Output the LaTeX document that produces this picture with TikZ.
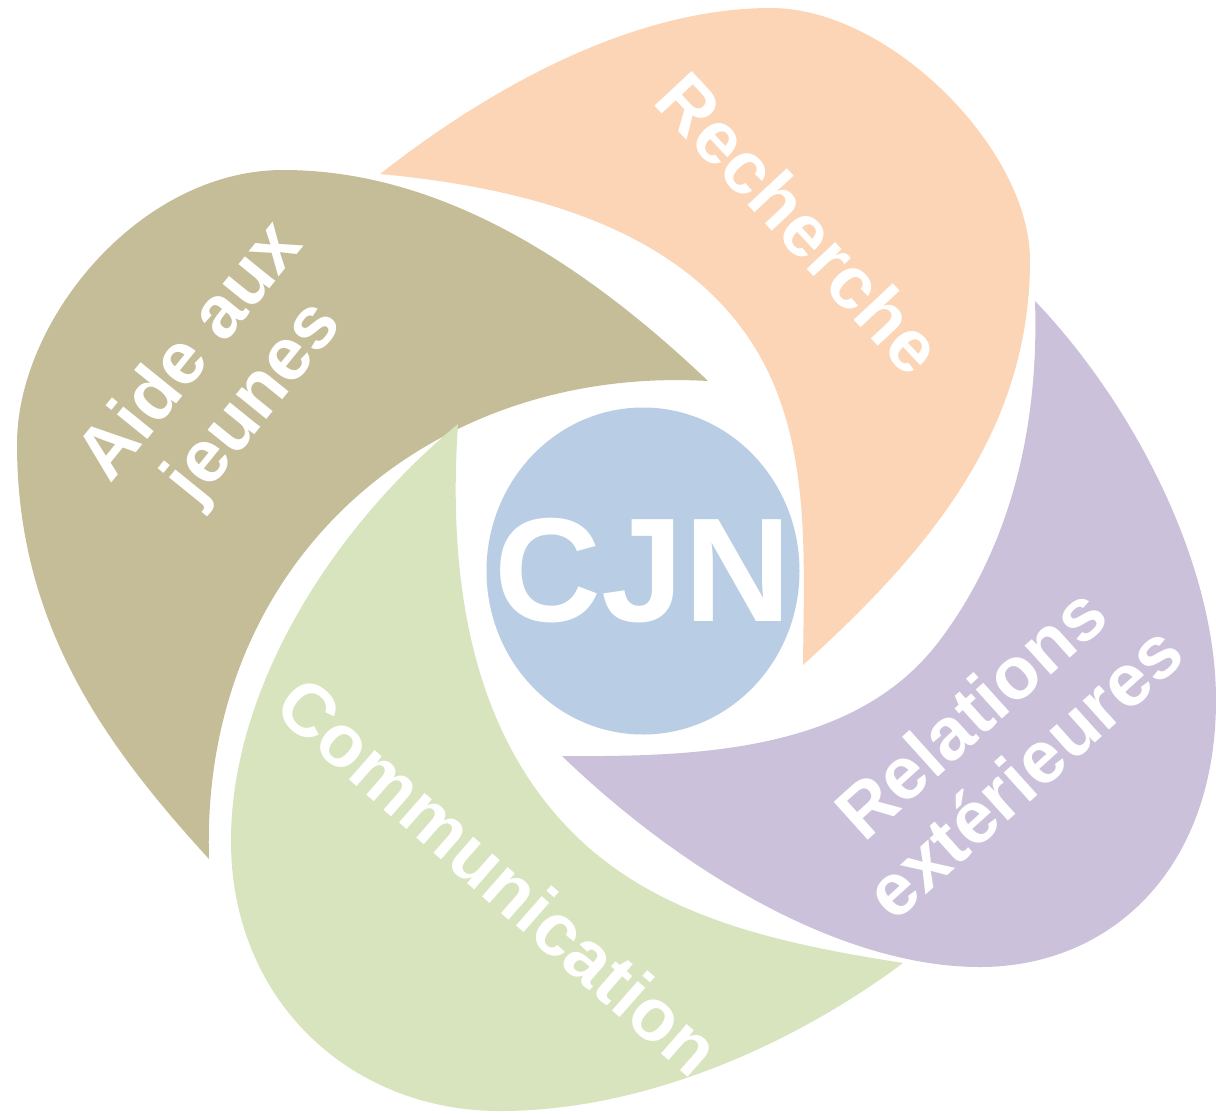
\documentclass[tikz,border=0pt]{standalone}
\usepackage{fontspec}
\setmainfont{Liberation Sans}
\usetikzlibrary{shapes.geometric}
\definecolor{peach}{HTML}{FBD5B5}
\definecolor{khaki}{HTML}{C4BD97}
\definecolor{sage}{HTML}{D7E4BD}
\definecolor{lilac}{HTML}{CCC1DA}
\definecolor{sky}{HTML}{B9CDE5}

\begin{document}
\begin{tikzpicture}[x=1pt,y=-1pt,
    lbl/.style={text=white, font=\bfseries\fontsize{74}{80}\selectfont, align=center, inner sep=0pt}]
  \useasboundingbox (0,0) rectangle (1216,1114);
  % Recherche
  \fill[peach] (380,174) .. controls (500,80) and (640,8) .. (771,8)
    .. controls (890,8) and (1030,150) .. (1030,260)
    .. controls (1030,430) and (930,550) .. (803,665)
    .. controls (804,553) and (812,433) .. (750,340)
    .. controls (673,224) and (519,187) .. (380,174) -- cycle;
  % Aide aux jeunes
  \fill[khaki] (708,381) .. controls (560,240) and (420,170) .. (283,170)
    .. controls (140,170) and (17,320) .. (17,444)
    .. controls (17,620) and (100,740) .. (209,859)
    .. controls (200,560) and (430,365) .. (708,381) -- cycle;
  % Communication
  \fill[sage] (458,424) .. controls (330,530) and (231,690) .. (231,841)
    .. controls (231,1000) and (350,1111) .. (500,1111)
    .. controls (650,1111) and (800,1040) .. (903,963)
    .. controls (783,944) and (659,919) .. (573,833)
    .. controls (468,728) and (448,572) .. (458,424) -- cycle;
  % Relations exterieures
  \fill[lilac] (1035,301) .. controls (1130,400) and (1216,560) .. (1216,700)
    .. controls (1216,870) and (1110,967) .. (980,967)
    .. controls (840,967) and (680,870) .. (562,756)
    .. controls (701,757) and (857,751) .. (940,640)
    .. controls (1013,543) and (1039,422) .. (1035,301) -- cycle;

  \node[ellipse, fill=sky, minimum width=313pt, minimum height=327pt, inner sep=0pt] (cjn) at (643,571) {};
  \node[text=white, inner sep=0pt, font=\bfseries\fontsize{148}{148}\selectfont] (cjntxt) at (cjn.center) {CJN};

  \node[lbl, rotate=-47] (recherche) at (800,223) {Recherche};
  \node[lbl, rotate=51] (aide) at (224,378) {Aide aux\\jeunes};
  \node[lbl, rotate=-41.3] (comm) at (499,876) {Communication};
  \node[lbl, rotate=42] (relations) at (997,742) {Relations\\extérieures};
\end{tikzpicture}
\end{document}
